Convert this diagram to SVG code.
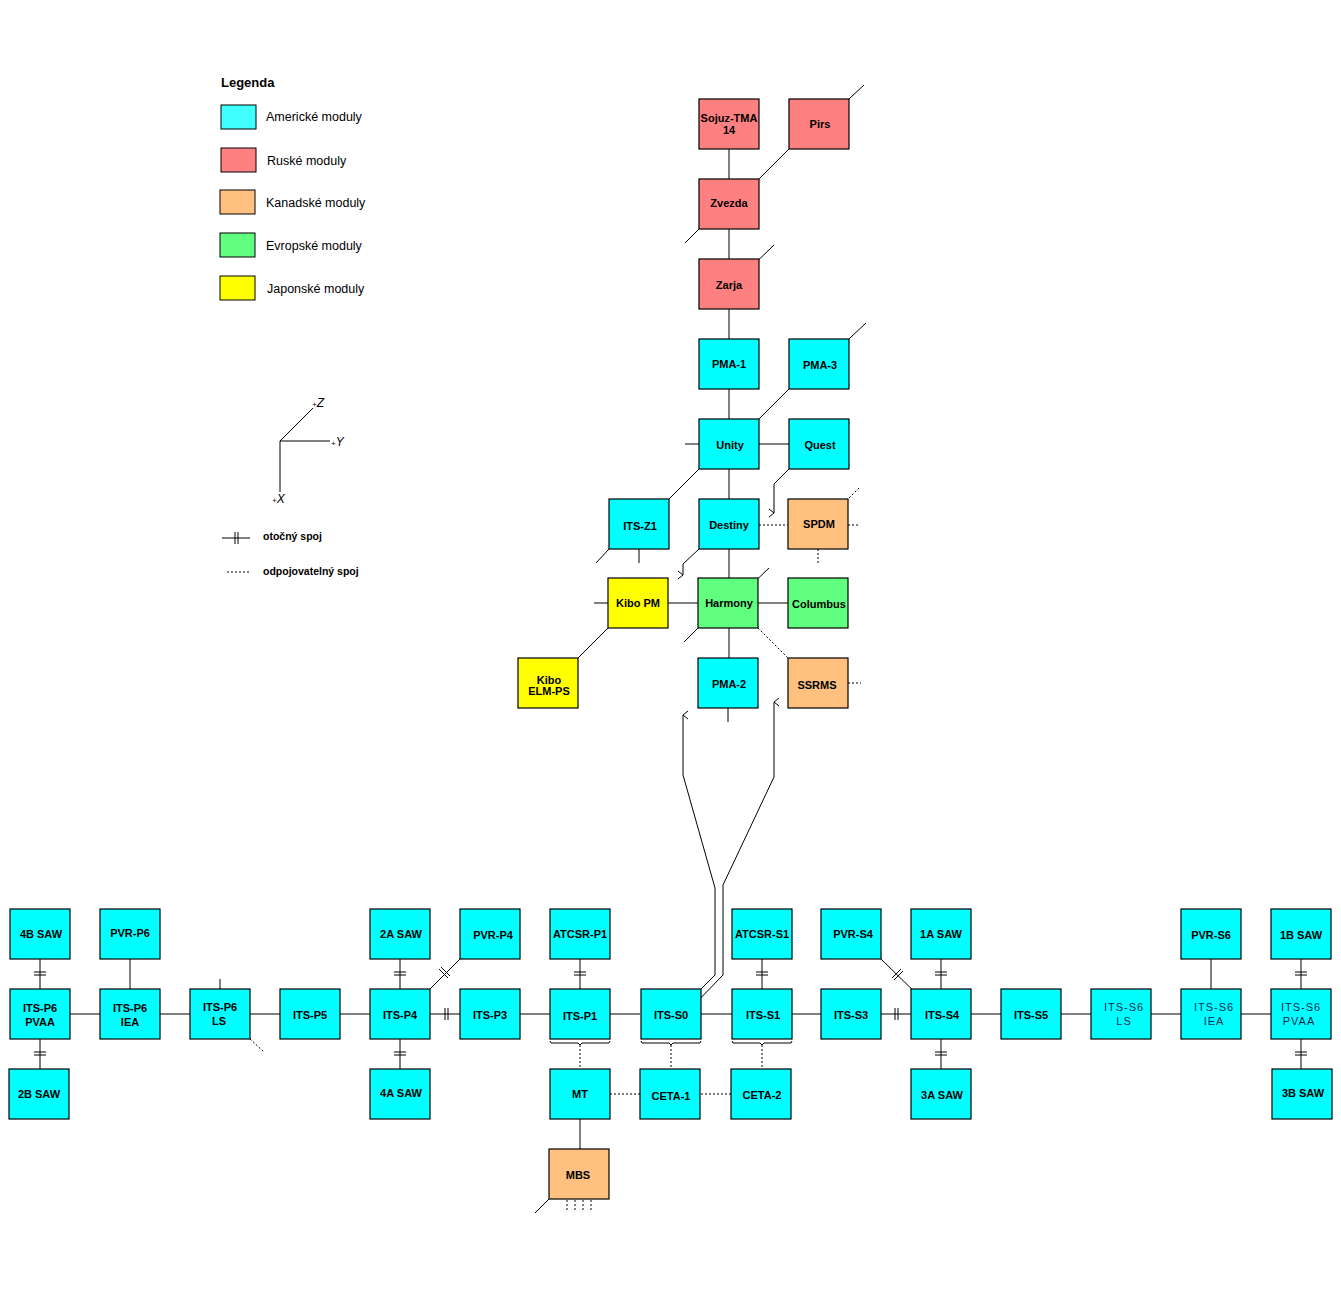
<svg xmlns="http://www.w3.org/2000/svg" width="1341" height="1300" viewBox="0 0 1341 1300">
<style>
.n rect{stroke:#000;stroke-width:1.2}
.us{fill:#00FFFF}.ru{fill:#FF8080}.ca{fill:#FFC080}.eu{fill:#60FF80}.jp{fill:#FFFF00}
text{font-family:"Liberation Sans",Arial,sans-serif}
.n text{font-size:11px;font-weight:bold;text-anchor:middle;fill:#000}
.n text.l{font-weight:normal;fill:#002a50;letter-spacing:1px}
.c line,.c path,.c polyline{stroke:#000;stroke-width:1;fill:none}
.c .d{stroke-dasharray:2,2}
.lg{font-size:12.5px}
</style>
<defs>
<marker id="ah" markerWidth="10" markerHeight="10" refX="5" refY="1" orient="auto-start-reverse" markerUnits="userSpaceOnUse"><path d="M1,6 L5,1 L9,6" fill="none" stroke="#000"/></marker>
</defs>
<rect width="1341" height="1300" fill="#fff"/>

<g id="legend">
<text x="221" y="87" font-size="13" font-weight="bold">Legenda</text>
<rect x="221" y="105" width="35" height="24" fill="#40FFFF" stroke="#000"/>
<text class="lg" x="266" y="121">Americké moduly</text>
<rect x="221" y="148" width="35" height="24" fill="#FF8080" stroke="#000"/>
<text class="lg" x="267" y="165">Ruské moduly</text>
<rect x="220" y="190" width="35" height="24" fill="#FFC080" stroke="#000"/>
<text class="lg" x="266" y="207">Kanadské moduly</text>
<rect x="220" y="233" width="35" height="24" fill="#60FF80" stroke="#000"/>
<text class="lg" x="266" y="250">Evropské moduly</text>
<rect x="220" y="276" width="35" height="24" fill="#FFFF00" stroke="#000"/>
<text class="lg" x="267" y="293">Japonské moduly</text>
<line x1="280" y1="441" x2="313" y2="408" stroke="#000"/>
<line x1="280" y1="441" x2="330" y2="441" stroke="#000"/>
<line x1="280" y1="441" x2="280" y2="492" stroke="#000"/>
<text x="312" y="407" font-size="12" font-style="italic"><tspan font-size="8">+</tspan>Z</text>
<text x="331" y="446" font-size="12" font-style="italic"><tspan font-size="8">+</tspan>Y</text>
<text x="272" y="503" font-size="12" font-style="italic"><tspan font-size="8">+</tspan>X</text>
<line x1="222" y1="538" x2="250" y2="538" stroke="#000"/>
<line x1="235" y1="532" x2="235" y2="544" stroke="#000"/>
<line x1="238" y1="532" x2="238" y2="544" stroke="#000"/>
<text x="263" y="540" font-size="10.5" font-weight="bold">otočný spoj</text>
<line x1="227" y1="572" x2="249" y2="572" stroke="#000" stroke-dasharray="2,2"/>
<text x="263" y="575" font-size="10.5" font-weight="bold">odpojovatelný spoj</text>
</g>

<g class="c" id="connectors">
<!-- top stack -->
<line x1="729" y1="149" x2="729" y2="179"/>
<line x1="729" y1="229" x2="729" y2="259"/>
<line x1="729" y1="309" x2="729" y2="339"/>
<line x1="729" y1="389" x2="729" y2="419"/>
<line x1="789" y1="149" x2="746" y2="192"/>
<line x1="835" y1="112" x2="864" y2="85"/>
<line x1="699" y1="229" x2="685" y2="243"/>
<line x1="746" y1="272" x2="774" y2="245"/>
<line x1="834" y1="353" x2="866" y2="323"/>
<line x1="789" y1="389" x2="746" y2="432"/>
<line x1="685" y1="444" x2="699" y2="444"/>
<line x1="759" y1="444" x2="789" y2="444"/>
<line x1="729" y1="469" x2="729" y2="499"/>
<line x1="699" y1="469" x2="656" y2="512"/>
<line x1="609" y1="549" x2="596" y2="563"/>
<line x1="639" y1="549" x2="639" y2="563"/>
<polyline points="789,469 774,484 774,513" marker-end="url(#ah)"/>
<line class="d" x1="759" y1="525" x2="788" y2="525"/>
<line class="d" x1="848" y1="525" x2="860" y2="525"/>
<line class="d" x1="818" y1="549" x2="818" y2="563"/>
<line class="d" x1="835" y1="512" x2="860" y2="487"/>
<polyline points="699,549 683,564 683,575" marker-end="url(#ah)"/>
<line x1="729" y1="549" x2="729" y2="578"/>
<line x1="668" y1="603" x2="698" y2="603"/>
<line x1="594" y1="603" x2="608" y2="603"/>
<line x1="758" y1="603" x2="788" y2="603"/>
<line x1="745" y1="591" x2="769" y2="568"/>
<line x1="698" y1="628" x2="684" y2="642"/>
<line x1="729" y1="628" x2="729" y2="658"/>
<line class="d" x1="758" y1="628" x2="788" y2="658"/>
<line class="d" x1="848" y1="683" x2="861" y2="683"/>
<line x1="728" y1="708" x2="728" y2="722"/>
<line x1="608" y1="628" x2="565" y2="671"/>
<!-- S0 to PMA-2 link -->
<polyline points="692,998 715,975 715,888 683,775 683,715" marker-end="url(#ah)"/>
<polyline points="692,1007 723,975 723,885 774,777 774,702" marker-end="url(#ah)"/>
<!-- truss horizontal -->
<line x1="70" y1="1014" x2="100" y2="1014"/>
<line x1="160" y1="1014" x2="190" y2="1014"/>
<line x1="250" y1="1014" x2="280" y2="1014"/>
<line x1="340" y1="1014" x2="370" y2="1014"/>
<line x1="430" y1="1014" x2="460" y2="1014"/>
<line x1="445" y1="1008" x2="445" y2="1020"/><line x1="448" y1="1008" x2="448" y2="1020"/>
<line x1="520" y1="1014" x2="550" y2="1014"/>
<line x1="610" y1="1014" x2="640" y2="1014"/>
<line x1="700" y1="1014" x2="732" y2="1014"/>
<line x1="792" y1="1014" x2="821" y2="1014"/>
<line x1="881" y1="1014" x2="911" y2="1014"/>
<line x1="895" y1="1008" x2="895" y2="1020"/><line x1="898" y1="1008" x2="898" y2="1020"/>
<line x1="971" y1="1014" x2="1001" y2="1014"/>
<line x1="1061" y1="1014" x2="1091" y2="1014"/>
<line x1="1151" y1="1014" x2="1181" y2="1014"/>
<line x1="1241" y1="1014" x2="1271" y2="1014"/>
<!-- verticals -->
<line x1="40" y1="959" x2="40" y2="989"/><line x1="34" y1="972" x2="46" y2="972"/><line x1="34" y1="975" x2="46" y2="975"/>
<line x1="40" y1="1039" x2="40" y2="1069"/><line x1="34" y1="1052" x2="46" y2="1052"/><line x1="34" y1="1055" x2="46" y2="1055"/>
<line x1="130" y1="959" x2="130" y2="989"/>
<line x1="220" y1="979" x2="220" y2="989"/>
<line class="d" x1="250" y1="1039" x2="264" y2="1052"/>
<line x1="400" y1="959" x2="400" y2="989"/><line x1="394" y1="972" x2="406" y2="972"/><line x1="394" y1="975" x2="406" y2="975"/>
<line x1="400" y1="1039" x2="400" y2="1069"/><line x1="394" y1="1052" x2="406" y2="1052"/><line x1="394" y1="1055" x2="406" y2="1055"/>
<line x1="460" y1="959" x2="416" y2="1003"/><line x1="439" y1="969" x2="448" y2="978"/><line x1="441" y1="967" x2="450" y2="976"/>
<line x1="580" y1="959" x2="580" y2="989"/><line x1="574" y1="972" x2="586" y2="972"/><line x1="574" y1="975" x2="586" y2="975"/>
<line x1="762" y1="959" x2="762" y2="989"/><line x1="756" y1="972" x2="768" y2="972"/><line x1="756" y1="975" x2="768" y2="975"/>
<line x1="881" y1="959" x2="926" y2="1003"/><line x1="892" y1="978" x2="901" y2="969"/><line x1="894" y1="980" x2="903" y2="971"/>
<line x1="941" y1="959" x2="941" y2="989"/><line x1="935" y1="972" x2="947" y2="972"/><line x1="935" y1="975" x2="947" y2="975"/>
<line x1="941" y1="1039" x2="941" y2="1069"/><line x1="935" y1="1052" x2="947" y2="1052"/><line x1="935" y1="1055" x2="947" y2="1055"/>
<line x1="1211" y1="959" x2="1211" y2="989"/>
<line x1="1301" y1="959" x2="1301" y2="989"/><line x1="1295" y1="972" x2="1307" y2="972"/><line x1="1295" y1="975" x2="1307" y2="975"/>
<line x1="1301" y1="1039" x2="1301" y2="1069"/><line x1="1295" y1="1052" x2="1307" y2="1052"/><line x1="1295" y1="1055" x2="1307" y2="1055"/>
<!-- braces -->
<path d="M550,1041 l1,2 h27 l2,2 l2,-2 h27 l1,-2"/>
<path d="M641,1041 l1,2 h27 l2,2 l2,-2 h27 l1,-2"/>
<path d="M732,1041 l1,2 h27 l2,2 l2,-2 h27 l1,-2"/>
<line class="d" x1="580" y1="1045" x2="580" y2="1069"/>
<line class="d" x1="671" y1="1045" x2="671" y2="1069"/>
<line class="d" x1="762" y1="1045" x2="762" y2="1069"/>
<line class="d" x1="610" y1="1094" x2="640" y2="1094"/>
<line class="d" x1="701" y1="1094" x2="731" y2="1094"/>
<line x1="580" y1="1119" x2="580" y2="1149"/>
<line x1="549" y1="1199" x2="535" y2="1213"/>
<line class="d" x1="567" y1="1200" x2="567" y2="1210"/>
<line class="d" x1="575" y1="1200" x2="575" y2="1210"/>
<line class="d" x1="583" y1="1200" x2="583" y2="1210"/>
<line class="d" x1="591" y1="1200" x2="591" y2="1210"/>
</g>

<g class="n" id="n-sojuz"><rect class="ru" x="699" y="99" width="60" height="50"/><text x="729" y="122">Sojuz-TMA</text><text x="729" y="134">14</text></g>
<g class="n" id="n-pirs"><rect class="ru" x="789" y="99" width="60" height="50"/><text x="820" y="128">Pirs</text></g>
<g class="n" id="n-zvezda"><rect class="ru" x="699" y="179" width="60" height="50"/><text x="729" y="207">Zvezda</text></g>
<g class="n" id="n-zarja"><rect class="ru" x="699" y="259" width="60" height="50"/><text x="729" y="289">Zarja</text></g>
<g class="n" id="n-pma1"><rect class="us" x="699" y="339" width="60" height="50"/><text x="729" y="368">PMA-1</text></g>
<g class="n" id="n-pma3"><rect class="us" x="789" y="339" width="60" height="50"/><text x="820" y="369">PMA-3</text></g>
<g class="n" id="n-unity"><rect class="us" x="699" y="419" width="60" height="50"/><text x="730" y="449">Unity</text></g>
<g class="n" id="n-quest"><rect class="us" x="789" y="419" width="60" height="50"/><text x="820" y="449">Quest</text></g>
<g class="n" id="n-itsz1"><rect class="us" x="609" y="499" width="60" height="50"/><text x="640" y="530">ITS-Z1</text></g>
<g class="n" id="n-destiny"><rect class="us" x="699" y="499" width="60" height="50"/><text x="729" y="529">Destiny</text></g>
<g class="n" id="n-spdm"><rect class="ca" x="788" y="499" width="60" height="50"/><text x="819" y="528">SPDM</text></g>
<g class="n" id="n-kibopm"><rect class="jp" x="608" y="578" width="60" height="50"/><text x="638" y="607">Kibo PM</text></g>
<g class="n" id="n-harmony"><rect class="eu" x="698" y="578" width="60" height="50"/><text x="729" y="607">Harmony</text></g>
<g class="n" id="n-columbus"><rect class="eu" x="788" y="578" width="60" height="50"/><text x="819" y="608">Columbus</text></g>
<g class="n" id="n-kiboelm"><rect class="jp" x="518" y="658" width="60" height="50"/><text x="549" y="684">Kibo</text><text x="549" y="695">ELM-PS</text></g>
<g class="n" id="n-pma2"><rect class="us" x="698" y="658" width="60" height="50"/><text x="729" y="688">PMA-2</text></g>
<g class="n" id="n-ssrms"><rect class="ca" x="788" y="658" width="60" height="50"/><text x="817" y="689">SSRMS</text></g>

<g class="n" id="n-4bsaw"><rect class="us" x="10" y="909" width="60" height="50"/><text x="41" y="938">4B SAW</text></g>
<g class="n" id="n-pvrp6"><rect class="us" x="100" y="909" width="60" height="50"/><text x="130" y="937">PVR-P6</text></g>
<g class="n" id="n-2asaw"><rect class="us" x="370" y="909" width="60" height="50"/><text x="401" y="938">2A SAW</text></g>
<g class="n" id="n-pvrp4"><rect class="us" x="460" y="909" width="60" height="50"/><text x="493" y="939">PVR-P4</text></g>
<g class="n" id="n-atcsrp1"><rect class="us" x="550" y="909" width="60" height="50"/><text x="580" y="938">ATCSR-P1</text></g>
<g class="n" id="n-atcsrs1"><rect class="us" x="732" y="909" width="60" height="50"/><text x="762" y="938">ATCSR-S1</text></g>
<g class="n" id="n-pvrs4"><rect class="us" x="821" y="909" width="60" height="50"/><text x="853" y="938">PVR-S4</text></g>
<g class="n" id="n-1asaw"><rect class="us" x="911" y="909" width="60" height="50"/><text x="941" y="938">1A SAW</text></g>
<g class="n" id="n-pvrs6"><rect class="us" x="1181" y="909" width="60" height="50"/><text x="1211" y="939">PVR-S6</text></g>
<g class="n" id="n-1bsaw"><rect class="us" x="1271" y="909" width="60" height="50"/><text x="1301" y="939">1B SAW</text></g>

<g class="n" id="n-itsp6pvaa"><rect class="us" x="10" y="989" width="60" height="50"/><text x="40" y="1012">ITS-P6</text><text x="40" y="1026">PVAA</text></g>
<g class="n" id="n-itsp6iea"><rect class="us" x="100" y="989" width="60" height="50"/><text x="130" y="1012">ITS-P6</text><text x="130" y="1026">IEA</text></g>
<g class="n" id="n-itsp6ls"><rect class="us" x="190" y="989" width="60" height="50"/><text x="220" y="1011">ITS-P6</text><text x="219" y="1025">LS</text></g>
<g class="n" id="n-itsp5"><rect class="us" x="280" y="989" width="60" height="50"/><text x="310" y="1019">ITS-P5</text></g>
<g class="n" id="n-itsp4"><rect class="us" x="370" y="989" width="60" height="50"/><text x="400" y="1019">ITS-P4</text></g>
<g class="n" id="n-itsp3"><rect class="us" x="460" y="989" width="60" height="50"/><text x="490" y="1019">ITS-P3</text></g>
<g class="n" id="n-itsp1"><rect class="us" x="550" y="989" width="60" height="50"/><text x="580" y="1020">ITS-P1</text></g>
<g class="n" id="n-itss0"><rect class="us" x="641" y="989" width="60" height="50"/><text x="671" y="1019">ITS-S0</text></g>
<g class="n" id="n-itss1"><rect class="us" x="732" y="989" width="60" height="50"/><text x="763" y="1019">ITS-S1</text></g>
<g class="n" id="n-itss3"><rect class="us" x="821" y="989" width="60" height="50"/><text x="851" y="1019">ITS-S3</text></g>
<g class="n" id="n-itss4"><rect class="us" x="911" y="989" width="60" height="50"/><text x="942" y="1019">ITS-S4</text></g>
<g class="n" id="n-itss5"><rect class="us" x="1001" y="989" width="60" height="50"/><text x="1031" y="1019">ITS-S5</text></g>
<g class="n" id="n-itss6ls"><rect class="us" x="1091" y="989" width="60" height="50"/><text class="l" x="1124" y="1011">ITS-S6</text><text class="l" x="1124" y="1025">LS</text></g>
<g class="n" id="n-itss6iea"><rect class="us" x="1181" y="989" width="60" height="50"/><text class="l" x="1214" y="1011">ITS-S6</text><text class="l" x="1214" y="1025">IEA</text></g>
<g class="n" id="n-itss6pvaa"><rect class="us" x="1271" y="989" width="60" height="50"/><text class="l" x="1301" y="1011">ITS-S6</text><text class="l" x="1299" y="1025">PVAA</text></g>

<g class="n" id="n-2bsaw"><rect class="us" x="9" y="1069" width="60" height="50"/><text x="39" y="1098">2B SAW</text></g>
<g class="n" id="n-4asaw"><rect class="us" x="370" y="1069" width="60" height="50"/><text x="401" y="1097">4A SAW</text></g>
<g class="n" id="n-mt"><rect class="us" x="550" y="1069" width="60" height="50"/><text x="580" y="1098">MT</text></g>
<g class="n" id="n-ceta1"><rect class="us" x="640" y="1069" width="60" height="50"/><text x="671" y="1100">CETA-1</text></g>
<g class="n" id="n-ceta2"><rect class="us" x="731" y="1069" width="60" height="50"/><text x="762" y="1099">CETA-2</text></g>
<g class="n" id="n-3asaw"><rect class="us" x="911" y="1069" width="60" height="50"/><text x="942" y="1099">3A SAW</text></g>
<g class="n" id="n-3bsaw"><rect class="us" x="1272" y="1069" width="60" height="50"/><text x="1303" y="1097">3B SAW</text></g>
<g class="n" id="n-mbs"><rect class="ca" x="549" y="1149" width="60" height="50"/><text x="578" y="1179">MBS</text></g>
</svg>
